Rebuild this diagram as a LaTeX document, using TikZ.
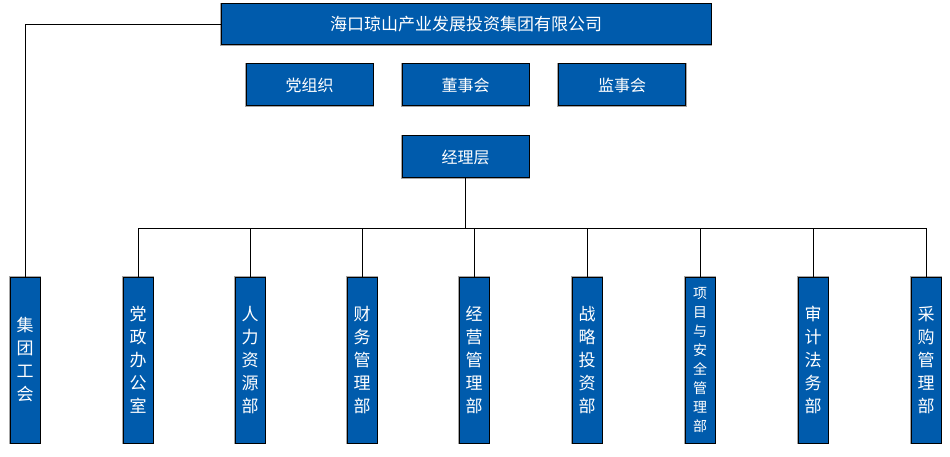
\documentclass[tikz,border=0pt]{standalone}
\usepackage{fontspec}
\setmainfont{Noto Sans CJK SC}
\usetikzlibrary{positioning}
\definecolor{boxblue}{HTML}{005BAC}
\tikzset{
  box/.style={draw=black, line width=1pt, fill=boxblue, text=white, inner sep=0pt,
    preaction={draw=gray!70, line width=2.6pt}},
  hbox/.style={box, minimum width=127pt, minimum height=42pt, font=\fontsize{16}{18}\selectfont},
  vbox/.style={box, minimum width=30pt, minimum height=166pt, align=center,
    font=\fontsize{17}{23}\selectfont},
  line/.style={draw=black, line width=0.8pt}
}
\begin{document}
\begin{tikzpicture}[x=1pt,y=-1pt]
        \useasboundingbox (0,0) rectangle (950,457);

        % Top level
        \node[box, minimum width=490pt, minimum height=41pt, font=\fontsize{17}{20}\selectfont] (GROUP) at (466,24.5) {海口琼山产业发展投资集团有限公司};
        \node[hbox] (PARTY) at (309.5,85) {党组织};
        \node[hbox] (BOARD) at (465.5,85) {董事会};
        \node[hbox] (SUPERV) at (622,85) {监事会};
        \node[hbox] (MANAGE) at (465.5,157) {经理层};

        % Departments
        \node[vbox] (UNION) at (25,360) {集\\团\\工\\会};
        \node[vbox] (D1) at (138,360) {党\\政\\办\\公\\室};
        \node[vbox] (D2) at (250,360) {人\\力\\资\\源\\部};
        \node[vbox] (D3) at (362,360) {财\\务\\管\\理\\部};
        \node[vbox] (D4) at (474,360) {经\\营\\管\\理\\部};
        \node[vbox] (D5) at (587,360) {战\\略\\投\\资\\部};
        \node[vbox, font=\fontsize{14}{19}\selectfont] (D6) at (700,360) {项\\目\\与\\安\\全\\管\\理\\部};
        \node[vbox] (D7) at (813,360) {审\\计\\法\\务\\部};
        \node[vbox] (D8) at (926,360) {采\\购\\管\\理\\部};

        % Connectors
        \draw[line] (GROUP.west) -| (UNION.north);
        \coordinate (BUS) at (465.5,228);
        \draw[line] (MANAGE.south) -- (BUS);
        \draw[line] (D1.north |- BUS) -- (D8.north |- BUS);
        \foreach \d in {D1, D2, D3, D4, D5, D6, D7, D8} {
            \draw[line] (\d.north |- BUS) -- (\d.north);
        }
\end{tikzpicture}
\end{document}
